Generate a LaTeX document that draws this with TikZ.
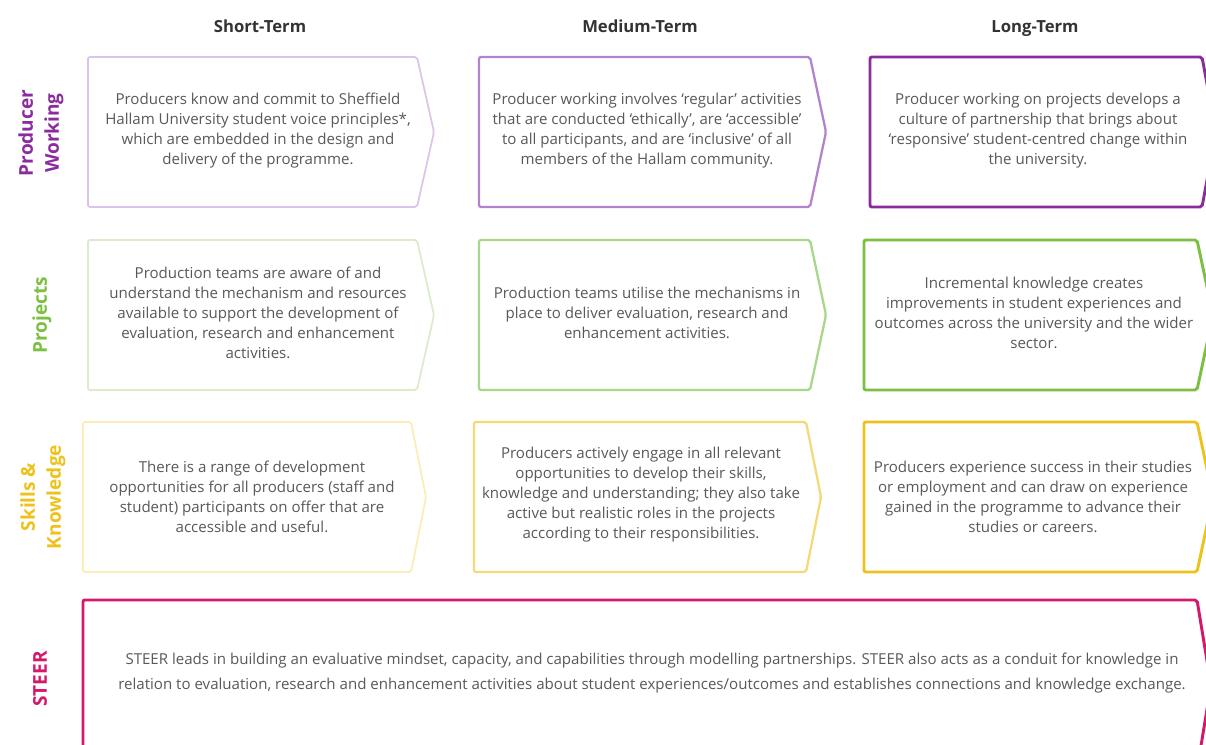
\documentclass[tikz,border=0pt]{standalone}
\usepackage{fontspec}
\setmainfont{Open Sans}
\usetikzlibrary{positioning}

\definecolor{pwA}{HTML}{DCC3E8}
\definecolor{pwB}{HTML}{B382CC}
\definecolor{pwC}{HTML}{8B2C9E}
\definecolor{pjA}{HTML}{DCEBC9}
\definecolor{pjB}{HTML}{A8D68A}
\definecolor{pjC}{HTML}{7CC043}
\definecolor{skA}{HTML}{FBEDB5}
\definecolor{skB}{HTML}{F5D878}
\definecolor{skC}{HTML}{EEC21B}
\definecolor{steerC}{HTML}{D4186C}
\definecolor{bodyC}{HTML}{595959}
\definecolor{headC}{HTML}{333333}

\begin{document}
\begin{tikzpicture}[x=0.75pt,y=-0.75pt,
    txt/.style={align=center,text=bodyC,font=\fontsize{11.3}{15}\selectfont},
    head/.style={anchor=base,text=headC,font=\fontsize{12.5}{15}\selectfont\bfseries},
    rowlab/.style={rotate=90,align=center,font=\fontsize{14.3}{19.5}\selectfont\bfseries},
    thin/.style={line width=1.3pt,rounded corners=1.5pt},
    mid/.style={line width=1.7pt,rounded corners=1.5pt},
    thick/.style={line width=2.2pt,rounded corners=1.5pt}]
    \clip (0,0) rectangle (1206,745);
    \fill[white] (0,0) rectangle (1206,745);

    % column heads
    \node[head] (short) at (260,33) {Short-Term};
    \node[head] (medium) at (640,33) {Medium-Term};
    \node[head] (long) at (1035,33) {Long-Term};

    % row labels
    \node[rowlab,text=pwC] (lab1) at (41,133) {Producer\\Working};
    \node[rowlab,text=pjC] (lab2) at (42,315) {Projects};
    \node[rowlab,text=skC] (lab3) at (43,497) {Skills \&\\Knowledge};
    \node[rowlab,text=steerC] (lab4) at (40,679) {STEER};

    % producer working
    \draw[thin,pwA] (88,57) -- (417,57) -- (434,132) -- (417,207) -- (88,207) -- cycle;
    \draw[mid,pwB] (479,57) -- (810,57) -- (826,132) -- (810,207) -- (479,207) -- cycle;
    \draw[thick,pwC] (870,57) -- (1202,57) -- (1216,132) -- (1202,207) -- (870,207) -- cycle;
    \node[txt] (pw1) at (258,131) {Producers know and commit to Sheffield\\Hallam University student voice principles*,\\which are embedded in the design and\\delivery of the programme.};
    \node[txt] (pw2) at (647,131) {Producer working involves ‘regular’ activities\\that are conducted ‘ethically’, are ‘accessible’\\to all participants, and are ‘inclusive’ of all\\members of the Hallam community.};
    \node[txt] (pw3) at (1038,131) {Producer working on projects develops a\\culture of partnership that brings about\\‘responsive’ student-centred change within\\the university.};

    % projects
    \draw[thin,pjA] (88,240) -- (417,240) -- (434,315) -- (417,390) -- (88,390) -- cycle;
    \draw[mid,pjB] (479,240) -- (810,240) -- (826,315) -- (810,390) -- (479,390) -- cycle;
    \draw[thick,pjC] (864,240) -- (1197,240) -- (1213,315) -- (1197,390) -- (864,390) -- cycle;
    \node[txt] (pj1) at (258,313) {Production teams are aware of and\\understand the mechanism and resources\\available to support the development of\\evaluation, research and enhancement\\activities.};
    \node[txt] (pj2) at (647,313) {Production teams utilise the mechanisms in\\place to deliver evaluation, research and\\enhancement activities.};
    \node[txt] (pj3) at (1034,313) {Incremental knowledge creates\\improvements in student experiences and\\outcomes across the university and the wider\\sector.};

    % skills & knowledge
    \draw[thin,skA] (83,422) -- (411,422) -- (426,497) -- (411,572) -- (83,572) -- cycle;
    \draw[mid,skB] (474,422) -- (806,422) -- (821,497) -- (806,572) -- (474,572) -- cycle;
    \draw[thick,skC] (864,422) -- (1197,422) -- (1213,497) -- (1197,572) -- (864,572) -- cycle;
    \node[txt] (sk1) at (252,497) {There is a range of development\\opportunities for all producers (staff and\\student) participants on offer that are\\accessible and useful.};
    \node[txt] (sk2) at (641,495) {Producers actively engage in all relevant\\opportunities to develop their skills,\\knowledge and understanding; they also take\\active but realistic roles in the projects\\according to their responsibilities.};
    \node[txt] (sk3) at (1033,497) {Producers experience success in their studies\\or employment and can draw on experience\\gained in the programme to advance their\\studies or careers.};

    % STEER
    \draw[thick,steerC] (83,600) -- (1197,600) -- (1211,685) -- (1197,770) -- (83,770) -- cycle;
    \node[txt,font=\fontsize{11.3}{18.8}\selectfont] (steer) at (652,673) {STEER leads in building an evaluative mindset, capacity, and capabilities through modelling partnerships. STEER also acts as a conduit for knowledge in\\relation to evaluation, research and enhancement activities about student experiences/outcomes and establishes connections and knowledge exchange.};
\end{tikzpicture}
\end{document}
